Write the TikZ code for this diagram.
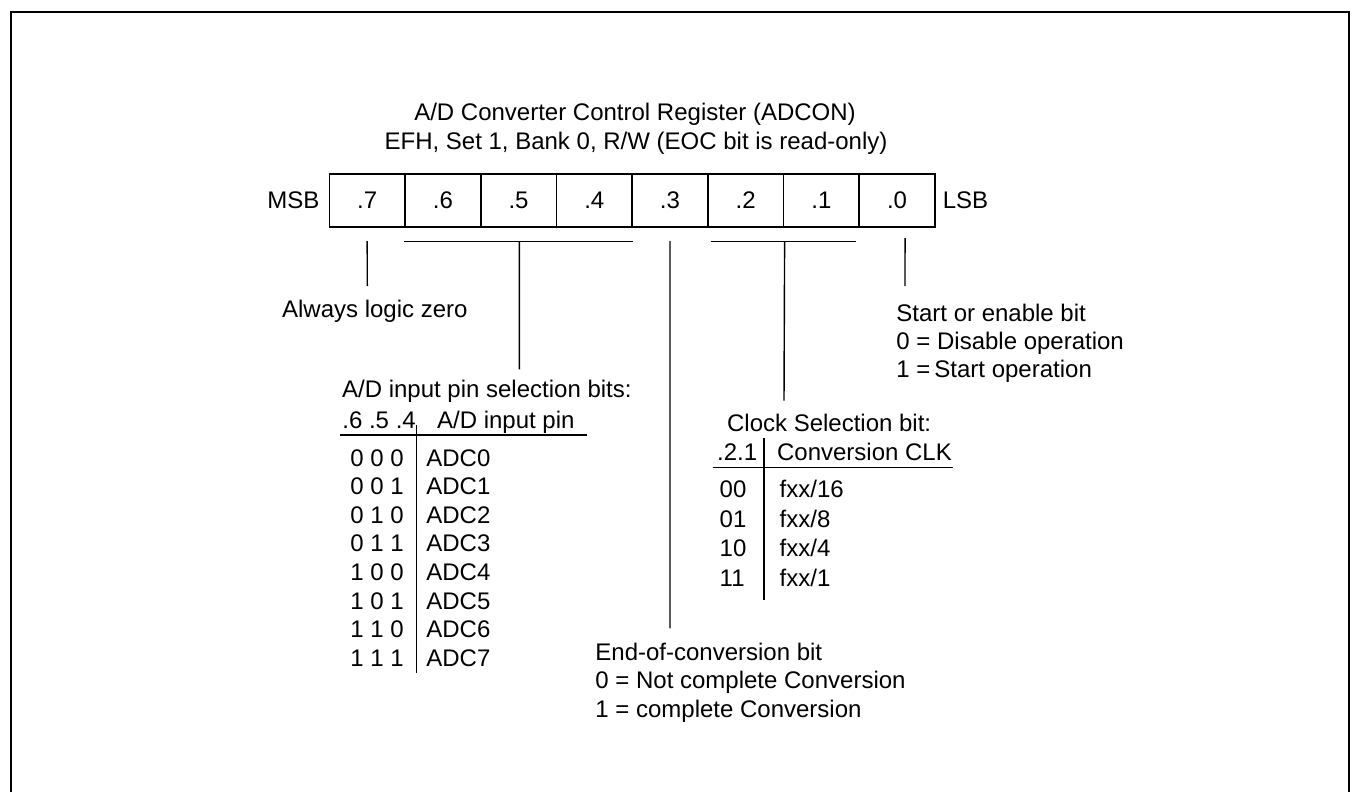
\documentclass[tikz,border=0pt]{standalone}
\usepackage{fontspec}
\setmainfont{Liberation Sans}
\usetikzlibrary{positioning,calc}

\begin{document}
\begin{tikzpicture}[x=0.5pt, y=-0.5pt,
  every node/.style={font=\fontsize{12}{14}\selectfont},
  cell/.style={draw, line width=0.8pt, minimum width=37.85pt, minimum height=26.35pt, inner sep=0pt},
  txt/.style={anchor=base west, inner sep=0pt},
  conn/.style={line width=0.7pt}]

\useasboundingbox (0,0) rectangle (1353,792);

% Open frame round the figure
\draw[line width=1.1pt] (11,792) -- (11,12) -- (1349,12) -- (1349,792);

% Title lines
\node[anchor=base, inner sep=0pt] (title) at (635,120) {A/D Converter Control Register (ADCON)};
\node[anchor=base, inner sep=0pt] (addr) at (636,149.3) {EFH, Set 1, Bank 0, R/W (EOC bit is read-only)};

% Register cells, MSB on the left
\foreach \b [count=\k from 0] in {7,6,...,0}
  \node[cell] (b\b) at ({367.15+75.7*\k}, 200.35) {.\b};
\node[left=1pt of b7] (msb) {MSB};
\node[right=0pt of b0] (lsb) {LSB};

% Tap points under the register
\coordinate (t7) at ($(b7.south)+(0,13.5)$);
\coordinate (e7) at (367.3,286);
\coordinate (t64) at ($(b5.south)+(0.8,14)$);
\coordinate (e64) at (519.3,369.3);
\coordinate (t3) at ($(b3.south)+(0,13.5)$);
\coordinate (e3) at (670,628.3);
\coordinate (t21) at ($(b2.south east)+(0.3,14)$);
\coordinate (e21) at (784,400.7);
\coordinate (t0) at ($(b0.south)+(8,10.5)$);
\coordinate (e0) at (905,286);

% Connectors
\draw[conn] (t7) -- (e7);
\draw[conn] ($(b6.south west)+(0,14)$) -- ($(b4.south east)+(0,14)$);
\draw[conn] (t64) -- (e64);
\draw[conn] (t3) -- (e3);
\draw[conn] ($(b2.south west)+(3.7,14)$) -- ($(b1.south east)+(-4.3,14)$);
\draw[conn] (t21) -- (e21);
\draw[conn] (t0) -- (e0);

% Bit 7
\node[txt] (zero) at (281.7,317.3) {Always logic zero};

% Bit 0
\node[txt] (start) at (896,321) {Start or enable bit};
\node[txt] (start0) at (896,349) {0 = Disable operation};
\node[txt] (start1) at (896,377) {1 =\kern2pt Start operation};

% Bits 6-4: input pin table
\node[txt] (pincap) at (341.7,397.5) {A/D input pin selection bits:};
\node[txt] (pinhd) at (342,428.6) {.6 .5 .4};
\node[txt] (pinhd2) at (436.7,428.6) {A/D input pin};
\draw[conn] (340,435) -- (587,435);
\draw[conn] (416.7,425) -- (416.7,673);
\foreach \code/\pin [count=\r from 0] in {0 0 0/ADC0,0 0 1/ADC1,0 1 0/ADC2,0 1 1/ADC3,1 0 0/ADC4,1 0 1/ADC5,1 1 0/ADC6,1 1 1/ADC7}
{
  \node[txt] (pc\r) at (350,{466+28.6*\r}) {\code};
  \node[txt] (pn\r) at (426,{466+28.6*\r}) {\pin};
}

% Bits 2-1: clock table
\node[txt] (clkcap) at (726.7,431.7) {Clock Selection bit:};
\node[txt] (clkhd) at (716.7,460.5) {.2.1};
\node[txt] (clkhd2) at (776.7,460.5) {Conversion CLK};
\draw[conn] (712.7,467.3) -- (953.3,467.3);
\draw[conn] (764,438) -- (764,600);
\foreach \code/\div [count=\r from 0] in {00/16,01/8,10/4,11/1}
{
  \node[txt] (cc\r) at (719.3,{497.3+29.8*\r}) {\code};
  \node[txt] (cd\r) at (779.3,{497.3+29.8*\r}) {fxx/\div};
}

% Bit 3
\node[txt] (eoc) at (595,660) {End-of-conversion bit};
\node[txt] (eoc0) at (595,688.5) {0 = Not complete Conversion};
\node[txt] (eoc1) at (595,717) {1 = complete Conversion};

\end{tikzpicture}
\end{document}
